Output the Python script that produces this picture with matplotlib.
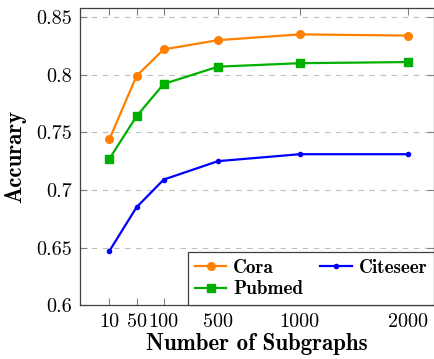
import matplotlib.pyplot as plt

# subgraph counts, placed at uneven positions as in the original
subgraphs = ["10", "50", "100", "500", "1000", "2000"]
positions = [0, 1, 2, 4, 7, 11]

cora = [0.744, 0.799, 0.822, 0.830, 0.835, 0.834]
pubmed = [0.727, 0.764, 0.792, 0.807, 0.810, 0.811]
citeseer = [0.647, 0.685, 0.709, 0.725, 0.731, 0.731]

yticks = [0.6, 0.65, 0.7, 0.75, 0.8, 0.85]
ytick_labels = ["0.6", "0.65", "0.7", "0.75", "0.8", "0.85"]

plt.rcParams['font.family'] = ['cmr10', 'DejaVu Serif']
plt.rcParams['axes.unicode_minus'] = False

fig = plt.figure(figsize=(4.35, 3.59), dpi=100)
ax = fig.add_axes([0.184, 0.150, 0.814, 0.828])

ax.plot(positions, cora, color='#ff8000', marker='o', markersize=5.5, linewidth=1.6, label='Cora', zorder=3)
ax.plot(positions, pubmed, color='#00b000', marker='s', markersize=5.5, linewidth=1.6, label='Pubmed', zorder=3)
ax.plot(positions, citeseer, color='#0000ff', marker='o', markersize=3, linewidth=1.6, label='Citeseer', zorder=3)

ax.set_xlim(-1.08, 11.95)
ax.set_ylim(0.6, 0.858)
ax.set_xticks(positions)
ax.set_xticklabels(subgraphs)
ax.set_yticks(yticks)
ax.set_yticklabels(ytick_labels)

# dashed horizontal grid only
for y in yticks[1:]:
    ax.axhline(y, color='#bfbfbf', linestyle=(0, (5, 5)), linewidth=0.8, zorder=1)

ax.tick_params(direction='in', length=5, width=0.8, color='#808080', labelsize=14.5,
               top=True, right=True, pad=6)
for s in ax.spines.values():
    s.set_color('#404040')
    s.set_linewidth(0.9)

ax.set_xlabel('Number of Subgraphs', fontfamily='cmb10', fontsize=16.5, labelpad=1)
ax.set_ylabel('Accurary', fontfamily='cmb10', fontsize=16.5, labelpad=7)

leg = ax.legend(loc='lower right', ncol=2, frameon=True, fancybox=False, borderaxespad=0,
                prop={'family': 'cmb10', 'size': 13.8}, handlelength=1.65, columnspacing=0.9,
                borderpad=0.35, labelspacing=0.2, handletextpad=0.35)
leg.get_frame().set_edgecolor('#404040')
leg.get_frame().set_linewidth(0.9)
leg.get_frame().set_alpha(1)
leg.set_zorder(5)

plt.savefig('out.png', dpi=100)
